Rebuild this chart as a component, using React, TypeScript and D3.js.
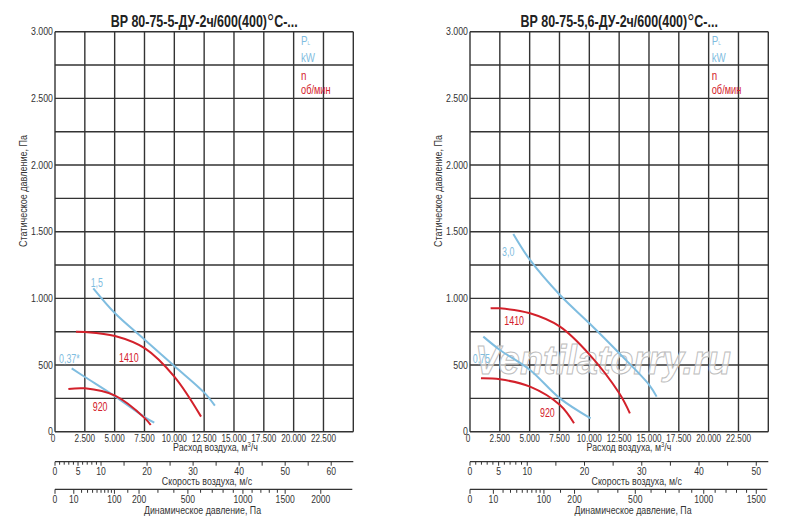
import React from "react"
import * as d3 from "d3"

// ---- data ----
const flowTicks = [0, 2500, 5000, 7500, 10000, 12500, 15000, 17500, 20000, 22500]
const flowGrid = [0, 2500, 5000, 7500, 10000, 12500, 15000, 17500, 20000, 22500, 25000]
const pressureTicks = [0, 500, 1000, 1500, 2000, 2500, 3000]
const pressureGrid = [0, 250, 500, 750, 1000, 1250, 1500, 1750, 2000, 2250, 2500, 2750, 3000]

const speedTicksA = [0, 1, 2, 3, 4, 5, 6, 7, 8, 9, 10, 15, 20, 25, 30, 35, 40, 45, 50, 55, 60]
const speedLabelsA = [0, 5, 10, 20, 30, 40, 50, 60]
const speedTicksB = [0, 1, 2, 3, 4, 5, 6, 7, 8, 9, 10, 15, 20, 25, 30, 35, 40, 45, 50]
const speedLabelsB = [0, 5, 10, 20, 30, 40, 50]

const dynTicksA = [0, 10, 20, 30, 40, 50, 60, 70, 80, 90, 100, 150, 200, 300, 400, 500, 600, 700, 800, 900, 1000, 1100, 1200, 1300, 1400, 1500, 2000]
const dynLabelsA = [0, 10, 100, 200, 500, 1000, 1500, 2000]
const dynTicksB = [0, 10, 20, 30, 40, 50, 60, 70, 80, 90, 100, 150, 200, 300, 400, 500, 600, 700, 800, 900, 1000, 1100, 1200, 1300, 1400, 1500]
const dynLabelsB = [0, 10, 100, 200, 500, 1000, 1500]

// air speed at 25.000 m³/h for each fan size
const speedAtMaxA = 64.8
const speedAtMaxB = 52.1

// [flow m³/h, static pressure Pa]
const powerHighA: [number, number][] = [[3210, 1075], [5030, 888], [7540, 688], [10000, 493], [12510, 293], [13400, 195]]
const speedHighA: [number, number][] = [[1760, 750], [2510, 748], [5030, 718], [7540, 625], [10000, 413], [12240, 113]]
const powerLowA: [number, number][] = [[1400, 475], [2510, 410], [5030, 265], [7540, 108], [8320, 68]]
const speedLowA: [number, number][] = [[1120, 320], [2510, 325], [5030, 270], [7540, 100], [8020, 50]]

const powerHighB: [number, number][] = [[3630, 1483], [5030, 1288], [7540, 1025], [10000, 813], [12510, 588], [15030, 350], [15640, 263]]
const speedHighB: [number, number][] = [[1730, 925], [2510, 925], [5030, 888], [7540, 788], [10000, 580], [12510, 288], [13400, 138]]
const powerLowB: [number, number][] = [[1115, 713], [2510, 613], [5030, 463], [7540, 250], [10110, 100]]
const speedLowB: [number, number][] = [[920, 400], [2510, 393], [5030, 338], [7540, 200], [8720, 63]]

const BLUE = "#7fbde0"
const RED = "#d3212b"
const INK = "#333"
const FONT = "'Liberation Sans', Arial, sans-serif"

interface CurveLabel { text: string; q: number; p: number; color: string }
interface PanelProps {
  x0: number
  title: string
  curves: { pts: [number, number][]; color: string }[]
  labels: CurveLabel[]
  speedMax: number
  speedTicks: number[]
  speedLabels: number[]
  dynTicks: number[]
  dynLabels: number[]
  legendX: number
  flowTitleX: number
  speedTitleX: number
  dynTitleX: number
  watermark?: boolean
}

const fmt = d3.formatLocale({ decimal: ",", thousands: ".", grouping: [3], currency: ["", ""] }).format(",")

// condensed text: the original uses a narrow face, so squeeze horizontally
function NText({ x, y, sx = 0.86, rot = 0, children, ...rest }: any) {
  return (
    <text transform={`translate(${x},${y})${rot ? ` rotate(${rot})` : ""} scale(${sx},1)`} {...rest}>
      {children}
    </text>
  )
}

function Panel(p: PanelProps) {
  const top = 31.7
  const h = 400
  const w = 298.3
  const x = d3.scaleLinear().domain([0, 25000]).range([p.x0, p.x0 + w])
  const y = d3.scaleLinear().domain([0, 3000]).range([top + h, top])
  const sp = d3.scaleLinear().domain([0, p.speedMax]).range([p.x0, p.x0 + w])
  // dynamic pressure = rho/2 * v², rho = 1.2
  const dyn = d3.scaleSqrt().domain([0, 0.6 * p.speedMax * p.speedMax]).range([p.x0, p.x0 + w])
  const line = d3.line<[number, number]>().x(d => x(d[0])).y(d => y(d[1])).curve(d3.curveCatmullRom)
  const speedY = 461.7
  const dynY = 489.3
  const cx = p.x0 + w / 2

  return (
    <g fontFamily={FONT}>
      <NText x={cx} y={26.7} sx={0.78} textAnchor="middle" fontWeight="bold" fontSize={16} fill="#222">
        {p.title}<tspan fontSize={23} fontWeight="normal" dy={3}>°</tspan><tspan dy={-3}>С-...</tspan>
      </NText>

      {pressureGrid.map(v => (
        <line key={"h" + v} x1={p.x0} x2={p.x0 + w} y1={y(v)} y2={y(v)} stroke={INK} strokeWidth={1.4} />
      ))}
      {flowGrid.map(v => (
        <line key={"v" + v} x1={x(v)} x2={x(v)} y1={top} y2={top + h} stroke={INK} strokeWidth={1.4} />
      ))}

      {pressureTicks.map(v => (
        <NText key={"yt" + v} x={p.x0 - 2} y={y(v) + 3.5} sx={0.88} textAnchor="end" fontSize={10} fill={INK}>{fmt(v)}</NText>
      ))}
      {flowTicks.map(v => (
        <NText key={"xt" + v} x={v === 0 ? x(v) - 2 : x(v)} y={441.7} sx={0.82} textAnchor="middle" fontSize={10} fill={INK}>{fmt(v)}</NText>
      ))}
      <NText x={p.x0 - 28} y={191} rot={-90} sx={0.86} textAnchor="middle" fontSize={10.5} fill={INK}>
        Статическое давление, Па
      </NText>
      <NText x={p.flowTitleX} y={451} sx={0.84} textAnchor="middle" fontSize={10.5} fill={INK}>
        Расход воздуха, м<tspan fontSize={7} dy={-4}>3</tspan><tspan dy={4}>/ч</tspan>
      </NText>

      {p.watermark && (
        <text x={p.x0 + 5} y={374} fontFamily={FONT} fontStyle="italic" fontWeight="bold" fontSize={40}
          textLength={256} lengthAdjust="spacingAndGlyphs"
          fill="#fff" fillOpacity={0.6} stroke="#bdbdbd" strokeWidth={1}>
          Ventilatorry.ru
        </text>
      )}

      {p.curves.map((c, i) => (
        <path key={"c" + i} d={line(c.pts) || ""} fill="none" stroke={c.color} strokeWidth={2} />
      ))}
      {p.labels.map((l, i) => (
        <NText key={"l" + i} x={x(l.q)} y={y(l.p)} sx={0.74} fontSize={12} fill={l.color}>{l.text}</NText>
      ))}

      <NText x={p.legendX} y={45} sx={0.78} fontSize={12.5} fill={BLUE}>P<tspan fontSize={6}>L</tspan></NText>
      <NText x={p.legendX} y={61.7} sx={0.78} fontSize={12.5} fill={BLUE}>kW</NText>
      <NText x={p.legendX} y={80} sx={0.78} fontSize={12.5} fill={RED}>n</NText>
      <NText x={p.legendX} y={94} sx={0.74} fontSize={12.5} fill={RED}>об/мин</NText>

      {/* air speed scale */}
      <line x1={p.x0} x2={p.x0 + w} y1={speedY} y2={speedY} stroke={INK} strokeWidth={1.2} />
      {p.speedTicks.map(v => (
        <line key={"st" + v} x1={sp(v)} x2={sp(v)} y1={speedY} y2={speedY + (v % 5 === 0 ? 4 : 3)} stroke={INK} strokeWidth={1} />
      ))}
      {p.speedLabels.map(v => (
        <NText key={"sl" + v} x={sp(v)} y={475} sx={0.86} textAnchor="middle" fontSize={10} fill={INK}>{v}</NText>
      ))}
      <NText x={p.speedTitleX} y={484.5} sx={0.84} textAnchor="middle" fontSize={10.5} fill={INK}>Скорость воздуха, м/с</NText>

      {/* dynamic pressure scale */}
      <line x1={p.x0} x2={p.x0 + w - 1} y1={dynY} y2={dynY} stroke={INK} strokeWidth={1.2} />
      {p.dynTicks.map(v => (
        <line key={"dt" + v} x1={dyn(v)} x2={dyn(v)} y1={dynY} y2={dynY + (p.dynLabels.includes(v) ? 4.5 : 3.5)} stroke={INK} strokeWidth={1} />
      ))}
      {p.dynLabels.map(v => (
        <NText key={"dl" + v} x={dyn(v)} y={503} sx={0.86} textAnchor="middle" fontSize={10} fill={INK}>{v}</NText>
      ))}
      <NText x={p.dynTitleX} y={513.5} sx={0.84} textAnchor="middle" fontSize={10.5} fill={INK}>Динамическое давление, Па</NText>
    </g>
  )
}

export default function App() {
  return (
    <svg width={800} height={528} style={{ position: "absolute", left: 0, top: 0, background: "#fff" }}>
      <rect width={800} height={528} fill="#fff" />
      <Panel
        x0={55}
        title="ВР 80-75-5-ДУ-2ч/600(400)"
        curves={[
          { pts: powerHighA, color: BLUE },
          { pts: powerLowA, color: BLUE },
          { pts: speedHighA, color: RED },
          { pts: speedLowA, color: RED },
        ]}
        labels={[
          { text: "1,5", q: 2990, p: 1085, color: BLUE },
          { text: "0,37*", q: 335, p: 518, color: BLUE },
          { text: "1410", q: 5360, p: 525, color: RED },
          { text: "920", q: 3160, p: 158, color: RED },
        ]}
        speedMax={speedAtMaxA}
        speedTicks={speedTicksA}
        speedLabels={speedLabelsA}
        dynTicks={dynTicksA}
        dynLabels={dynLabelsA}
        legendX={301}
        flowTitleX={215.5}
        speedTitleX={207}
        dynTitleX={202.5}
      />
      <Panel
        x0={470}
        title="ВР 80-75-5,6-ДУ-2ч/600(400)"
        curves={[
          { pts: powerHighB, color: BLUE },
          { pts: powerLowB, color: BLUE },
          { pts: speedHighB, color: RED },
          { pts: speedLowB, color: RED },
        ]}
        labels={[
          { text: "3,0", q: 2680, p: 1318, color: BLUE },
          { text: "0,75", q: 226, p: 518, color: BLUE },
          { text: "1410", q: 2875, p: 800, color: RED },
          { text: "920", q: 5866, p: 108, color: RED },
        ]}
        speedMax={speedAtMaxB}
        speedTicks={speedTicksB}
        speedLabels={speedLabelsB}
        dynTicks={dynTicksB}
        dynLabels={dynLabelsB}
        legendX={711.7}
        flowTitleX={629}
        speedTitleX={636.7}
        dynTitleX={633}
        watermark
      />
    </svg>
  )
}
